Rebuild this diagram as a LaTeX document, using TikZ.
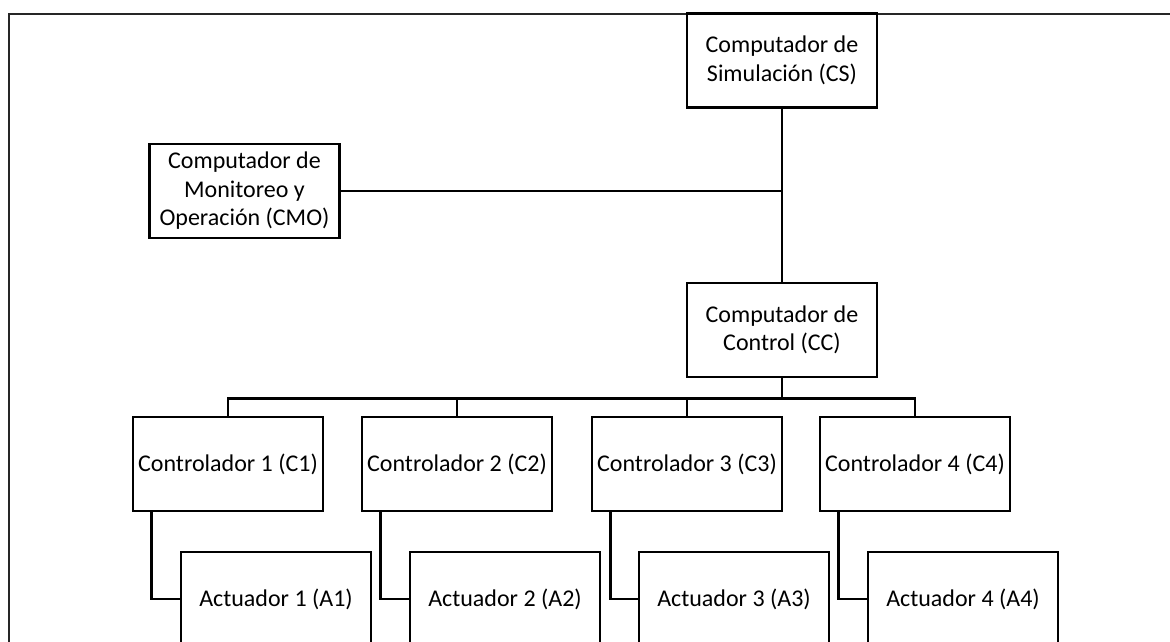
\documentclass[tikz,border=0pt]{standalone}
\usepackage{fontspec}
\setmainfont{Carlito}
\usetikzlibrary{calc}
\begin{document}
\begin{tikzpicture}[x=1pt,y=-1pt,
  unit/.style={draw=black,line width=2.6pt,minimum width=190pt,minimum height=94pt,
    inner sep=1pt,align=center,font=\fontsize{24}{28.5}\selectfont},
  link/.style={draw=black,line width=2.6pt},
  frameline/.style={draw=black!85,line width=2.6pt}]
\useasboundingbox (0,0) rectangle (1170,641);
\clip (0,0) rectangle (1170,641);
% outer frame (top and left edges)
\draw[frameline] (9,660) -- (9,14) -- (1180,14);
% computers
\node[unit] (cs)  at (782,60.5) {Computador de\\Simulación (CS)};
\node[unit] (cmo) at (244.5,191) {Computador de\\Monitoreo y\\Operación (CMO)};
\node[unit] (cc)  at (782,330) {Computador de\\Control (CC)};
% controllers
\node[unit] (c1) at (228,464) {Controlador 1 (C1)};
\node[unit] (c2) at (457,464) {Controlador 2 (C2)};
\node[unit] (c3) at (687,464) {Controlador 3 (C3)};
\node[unit] (c4) at (915,464) {Controlador 4 (C4)};
% actuators
\node[unit] (a1) at (276,599) {Actuador 1 (A1)};
\node[unit] (a2) at (505,599) {Actuador 2 (A2)};
\node[unit] (a3) at (734,599) {Actuador 3 (A3)};
\node[unit] (a4) at (963,599) {Actuador 4 (A4)};
% network links
\draw[link] (cs.south) -- (cc.north);
\draw[link] (cmo.east) -- (cmo.east -| cs.south);
\coordinate (bus) at ($(cc.south)+(0,20)$);
\draw[link] (cc.south) -- (bus);
\draw[link] (c1.north) |- (bus) -| (c4.north);
\draw[link] (c2.north) -- (c2.north |- bus);
\draw[link] (c3.north) -- (c3.north |- bus);
% controller to actuator links
\foreach \i in {1,...,4}{
  \draw[link] ($(c\i.south west)+(20,0)$) |- (a\i.west);
}
\end{tikzpicture}
\end{document}
